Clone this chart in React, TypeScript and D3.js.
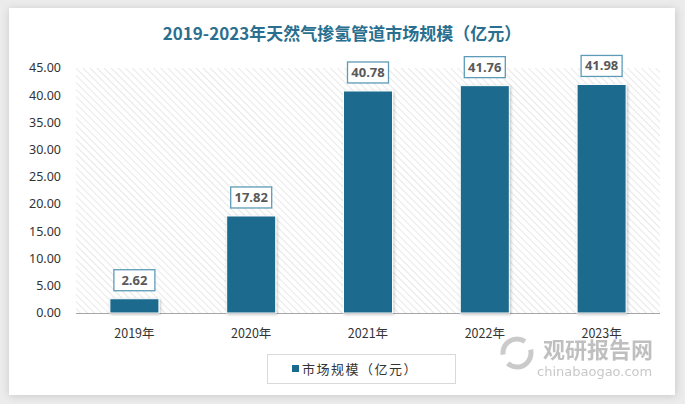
import React from "react";
import * as d3 from "d3";

const categories = ["2019年", "2020年", "2021年", "2022年", "2023年"];
const values = [2.62, 17.82, 40.78, 41.76, 41.98];
const yTicks = [0, 5, 10, 15, 20, 25, 30, 35, 40, 45];
const title = "2019-2023年天然气掺氢管道市场规模（亿元）";
const legendLabel = "市场规模（亿元）";

const W = 685, H = 404;
const plot = { left: 76, right: 660, top: 68, bottom: 313 };

export default function App() {
  const x = d3.scaleBand<string>().domain(categories).range([plot.left, plot.right]).paddingInner(0.58).paddingOuter(0.29);
  const y = d3.scaleLinear().domain([0, 45]).range([plot.bottom, plot.top]);
  const font = "'Noto Sans CJK SC', 'Noto Sans', sans-serif";
  return (
    <svg width={W} height={H} style={{ position: "absolute", left: 0, top: 0 }} xmlns="http://www.w3.org/2000/svg">
      <defs>
        <pattern id="hatch" width="5" height="5" patternUnits="userSpaceOnUse" patternTransform="rotate(-45)">
          <line x1="0" y1="0" x2="0" y2="5" stroke="#dcdcdc" strokeWidth="1.3" />
        </pattern>
        <filter id="shadow" x="-20%" y="-20%" width="140%" height="140%">
          <feDropShadow dx="1" dy="1" stdDeviation="1.5" floodColor="#000" floodOpacity="0.25" />
        </filter>
        <filter id="cardShadow" x="-5%" y="-5%" width="110%" height="110%">
          <feGaussianBlur stdDeviation="4" />
        </filter>
      </defs>
      <rect x={0} y={0} width={W} height={H} fill="#ececec" />
      <rect x={9} y={9} width={667} height={387} fill="#c8c8c8" filter="url(#cardShadow)" />
      <rect x={9} y={8} width={666} height={387} fill="#ffffff" />
      <text x={342} y={40} textAnchor="middle" fontFamily={font} fontWeight="bold" fontSize={17} fill="#2a6f8f">{title}</text>
      <rect x={plot.left} y={plot.top} width={plot.right - plot.left} height={plot.bottom - plot.top} fill="url(#hatch)" />
      <line x1={plot.left} x2={plot.right} y1={plot.bottom + 0.5} y2={plot.bottom + 0.5} stroke="#a6a6a6" strokeWidth={1} />
      {yTicks.map((t) => (
        <text key={t} x={61} y={y(t)} dy="0.35em" textAnchor="end" fontFamily="'Noto Sans', sans-serif" fontSize={12.5} fill="#333">{t.toFixed(2)}</text>
      ))}
      {categories.map((c, i) => {
        const bx = x(c)!;
        const bw = x.bandwidth();
        const cx = bx + bw / 2;
        const top = y(values[i]);
        return (
          <g key={c}>
            <rect x={bx} y={top} width={bw} height={plot.bottom - top} fill="#1b6a8d" stroke="#ffffff" strokeWidth={1} filter="url(#shadow)" />
            <rect x={cx - 20.5} y={top - 29} width={41} height={21} fill="#ffffff" stroke="#5d9bb6" strokeWidth={1.3} />
            <text x={cx} y={top - 18.5} dy="0.35em" textAnchor="middle" fontFamily="'Noto Sans', sans-serif" fontWeight="bold" fontSize={13} fill="#595959">{values[i].toFixed(2)}</text>
            <text x={cx} y={334} dy="0.35em" textAnchor="middle" fontFamily={font} fontSize={12.5} fill="#333">{c}</text>
          </g>
        );
      })}
      <rect x={267.5} y={354.5} width={188} height={29} fill="#ffffff" stroke="#d9d9d9" />
      <rect x={292} y={365} width={7} height={7} fill="#1b6a8d" />
      <text x={302} y={369} dy="0.35em" fontFamily={font} fontSize={13} fill="#333" letterSpacing="1.5">{legendLabel}</text>
      <g opacity={0.55}>
        <circle cx={517} cy={353} r={14} fill="none" stroke="#a0a0a0" strokeWidth={5} strokeDasharray="32 10" />
        <text x={543} y={358} fontFamily={font} fontWeight="bold" fontSize={22} fill="#8c8c8c">观研报告网</text>
        <text x={537} y={376} fontFamily="'DejaVu Sans', sans-serif" fontSize={13} fill="#9a9a9a">chinabaogao.com</text>
      </g>
    </svg>
  );
}
